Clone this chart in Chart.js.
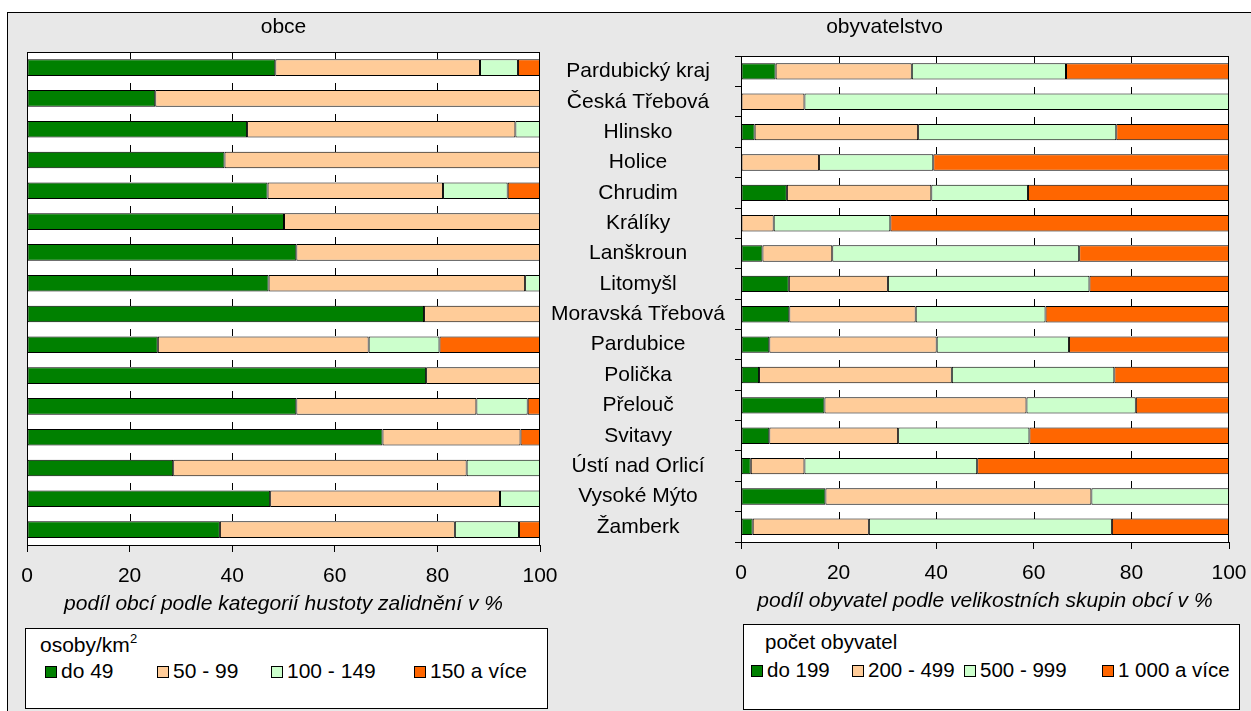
<!DOCTYPE html>
<html lang="cs">
<head>
<meta charset="utf-8">
<title>obce a obyvatelstvo</title>
<script src="https://cdn.jsdelivr.net/npm/chart.js@4.4.1/dist/chart.umd.min.js"></script>
<style>
    body {
        margin: 0;
        width: 1251px;
        height: 711px;
        overflow: hidden;
        position: relative;
        background: #fff;
        font-family: 'Liberation Sans', Arial, sans-serif;
        color: #000;
    }
    #frame {
        position: absolute;
        left: 7px;
        top: 12px;
        width: 1300px;
        height: 760px;
        border: 1px solid #000;
        background: #e8e8e8;
    }
    .chart-box { position: absolute; }
    #obceBox { left: 7px; top: 12px; width: 553px; height: 608px; }
    #obyvBox { left: 540px; top: 12px; width: 711px; height: 605px; }
    .legend {
        position: absolute;
        background: #fff;
        border: 1px solid #000;
        box-sizing: border-box;
        font-size: 21px;
        line-height: 25px;
    }
    #legendObce { left: 25px; top: 628px; width: 523px; height: 81px; }
    #legendObyv { left: 743px; top: 624px; width: 497px; height: 86px; font-size: 20.5px; }
    .legend .head { position: absolute; white-space: nowrap; }
    .legend .item { position: absolute; white-space: nowrap; }
    .legend .swatch {
        display: inline-block;
        width: 12px;
        height: 12px;
        border: 1px solid #000;
        box-sizing: border-box;
        margin-right: 4px;
        vertical-align: 0px;
    }
    .legend sup { font-size: 13px; line-height: 0; vertical-align: 9px; }
</style>
</head>
<body>
<div id="frame"></div>
<div class="chart-box" id="obceBox"><canvas id="obceChart"></canvas></div>
<div class="chart-box" id="obyvBox"><canvas id="obyvChart"></canvas></div>
<div class="legend" id="legendObce"></div>
<div class="legend" id="legendObyv"></div>

<script>
// ==================== DATA ====================
const okresy = [
    'Pardubický kraj', 'Česká Třebová', 'Hlinsko', 'Holice', 'Chrudim', 'Králíky',
    'Lanškroun', 'Litomyšl', 'Moravská Třebová', 'Pardubice', 'Polička', 'Přelouč',
    'Svitavy', 'Ústí nad Orlicí', 'Vysoké Mýto', 'Žamberk'
];

// obce - podle hustoty zalidnění (osoby/km2)
const hustotaKategorie = ['do 49', '50 - 99', '100 - 149', '150 a více'];
const obceDo49    = [48.4, 25.0, 42.9, 38.5, 46.9, 50.1, 52.5, 47.1, 77.4, 25.5, 77.8, 52.5, 69.3, 28.5, 47.4, 37.6];
const obce50_99   = [39.9, 75.0, 52.3, 61.5, 34.2, 49.9, 47.5, 50.0, 22.6, 41.1, 22.2, 35.1, 26.9, 57.2, 44.8, 45.8];
const obce100_149 = [7.4, 0, 4.8, 0, 12.6, 0, 0, 2.9, 0, 13.8, 0, 10.0, 0, 14.3, 7.8, 12.5];
const obce150     = [4.3, 0, 0, 0, 6.3, 0, 0, 0, 0, 19.6, 0, 2.4, 3.8, 0, 0, 4.1];

// obyvatelstvo - podle velikostních skupin obcí (počet obyvatel)
const velikostKategorie = ['do 199', '200 - 499', '500 - 999', '1 000 a více'];
const obyvDo199    = [7.1, 0, 2.8, 0, 9.4, 0, 4.4, 9.8, 9.9, 5.8, 3.7, 17.1, 5.8, 2.0, 17.3, 2.4];
const obyv200_499  = [27.9, 13.0, 33.5, 16.0, 29.6, 6.7, 14.3, 20.3, 25.9, 34.3, 39.5, 41.4, 26.4, 11.0, 54.5, 23.8];
const obyv500_999  = [31.6, 87.0, 40.6, 23.4, 19.8, 23.9, 50.6, 41.3, 26.6, 27.1, 33.3, 22.4, 26.9, 35.4, 28.2, 49.8];
const obyv1000     = [33.4, 0, 23.1, 60.6, 41.2, 69.4, 30.7, 28.6, 37.6, 32.8, 23.5, 19.1, 40.9, 51.6, 0, 24.0];

const xTicks = [0, 20, 40, 60, 80, 100];

// ==================== STYL ====================
const barvy = ['#008000', '#ffcc99', '#ccffcc', '#ff6600'];
const FONT = "'Liberation Sans', Arial, sans-serif";
const FS = 21;

Chart.defaults.font.family = FONT;
Chart.defaults.font.size = FS;
Chart.defaults.color = '#000';

// bílé pozadí a rámeček plochy grafu
const plotFrame = {
    id: 'plotFrame',
    beforeDatasetsDraw(chart) {
        const { ctx, chartArea: a } = chart;
        ctx.save();
        ctx.fillStyle = '#fff';
        ctx.fillRect(a.left, a.top, a.right - a.left, a.bottom - a.top);
        ctx.restore();
    },
    afterDatasetsDraw(chart) {
        const { ctx, chartArea: a } = chart;
        const xs = chart.scales.x;
        const meta = chart.getDatasetMeta(0);
        ctx.save();
        // krátké značky nad každým pruhem
        ctx.strokeStyle = '#000';
        ctx.lineWidth = 1;
        ctx.beginPath();
        meta.data.forEach(bar => {
            const top = Math.round(bar.y - bar.height / 2);
            xTicks.slice(1, -1).forEach(v => {
                const x = Math.round(xs.getPixelForValue(v)) + 0.5;
                ctx.moveTo(x, Math.max(a.top, top - 7));
                ctx.lineTo(x, top);
            });
        });
        ctx.stroke();
        ctx.strokeRect(Math.round(a.left) + 0.5, Math.round(a.top) + 0.5,
            Math.round(a.right - a.left) - 1, Math.round(a.bottom - a.top));
        ctx.restore();
    }
};

function makeDatasets(names, series) {
    return names.map((name, i) => ({
        label: name,
        data: series[i],
        backgroundColor: barvy[i],
        borderColor: '#000',
        borderWidth: 1,
        borderSkipped: false,
        barPercentage: 0.54,
        categoryPercentage: 1
    }));
}

function xScale(titleText) {
    return {
        stacked: true,
        min: 0,
        max: 100,
        ticks: { stepSize: 20, padding: 12, color: '#000', font: { size: FS } },
        grid: { drawOnChartArea: false, tickLength: 7, color: '#000' },
        border: { color: '#000' },
        title: {
            display: true,
            text: titleText,
            color: '#000',
            font: { size: FS, style: 'italic' },
            padding: { top: 0, bottom: 3 }
        },
        afterFit: s => {
            s.height = 75;
            s.paddingLeft = 0;
            s.paddingRight = 0;
        }
    };
}

// ==================== GRAF: OBCE ====================
new Chart(document.getElementById('obceChart'), {
    type: 'bar',
    data: {
        labels: okresy,
        datasets: makeDatasets(hustotaKategorie, [obceDo49, obce50_99, obce100_149, obce150])
    },
    options: {
        indexAxis: 'y',
        responsive: true,
        maintainAspectRatio: false,
        animation: false,
        layout: { padding: { left: 20, right: 20, top: 0, bottom: 0 } },
        plugins: {
            legend: { display: false },
            tooltip: { enabled: false },
            title: {
                display: true,
                text: 'obce',
                color: '#000',
                font: { size: FS, weight: 'normal' },
                padding: { top: 3, bottom: 12 }
            }
        },
        scales: {
            x: xScale('podíl obcí podle kategorií hustoty zalidnění v %'),
            y: { stacked: true, display: false }
        }
    },
    plugins: [plotFrame]
});

// ==================== GRAF: OBYVATELSTVO ====================
new Chart(document.getElementById('obyvChart'), {
    type: 'bar',
    data: {
        labels: okresy,
        datasets: makeDatasets(velikostKategorie, [obyvDo199, obyv200_499, obyv500_999, obyv1000])
    },
    options: {
        indexAxis: 'y',
        responsive: true,
        maintainAspectRatio: false,
        animation: false,
        layout: { padding: { left: 0, right: 22, top: 0, bottom: 0 } },
        plugins: {
            legend: { display: false },
            tooltip: { enabled: false },
            title: {
                display: true,
                text: 'obyvatelstvo',
                color: '#000',
                font: { size: FS, weight: 'normal' },
                padding: { top: 3, bottom: 16 }
            }
        },
        scales: {
            x: xScale('podíl obyvatel podle velikostních skupin obcí v %'),
            y: {
                stacked: true,
                ticks: { crossAlign: 'center', padding: 10, color: '#000', font: { size: FS } },
                grid: { drawOnChartArea: false, tickLength: 6, color: '#000' },
                border: { color: '#000' },
                afterFit: s => { s.width = 201; }
            }
        }
    },
    plugins: [plotFrame]
});

// ==================== LEGENDY ====================
function buildLegend(el, headHtml, names, itemLefts, headPos, rowTop) {
    let html = `<div class="head" style="left:${headPos[0]}px;top:${headPos[1]}px">${headHtml}</div>`;
    names.forEach((name, i) => {
        html += `<div class="item" style="left:${itemLefts[i]}px;top:${rowTop}px">` +
            `<span class="swatch" style="background:${barvy[i]}"></span>${name}</div>`;
    });
    el.innerHTML = html;
}

buildLegend(document.getElementById('legendObce'), 'osoby/km<sup>2</sup>',
    hustotaKategorie, [19, 131, 245, 388], [14, 3], 29);
buildLegend(document.getElementById('legendObyv'), 'počet obyvatel',
    velikostKategorie, [7, 108, 220, 358], [21, 4], 32);
</script>
</body>
</html>
